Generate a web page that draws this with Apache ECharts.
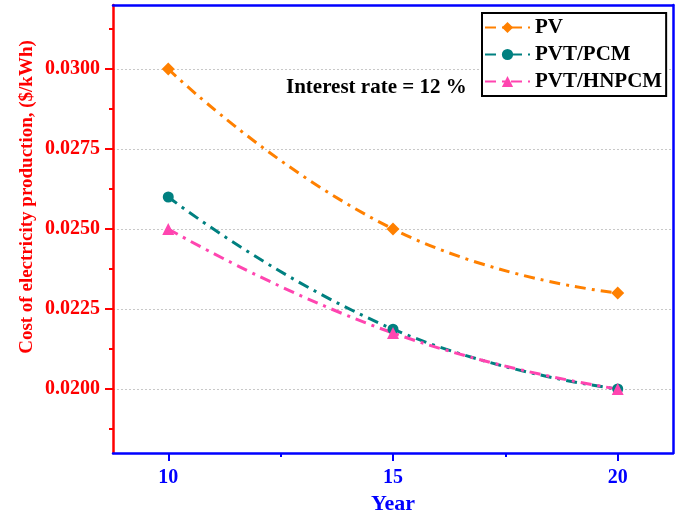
<!DOCTYPE html>
<html>
<head>
<meta charset="utf-8">
<script src="https://cdn.jsdelivr.net/npm/echarts@6/dist/echarts.min.js"></script>
<style>
  html, body { margin: 0; padding: 0; background: #fff; }
  #container { width: 681px; height: 513px; }
</style>
</head>
<body>
<div id="container"></div>
<script>
// data
var years = [10, 15, 20]
var pv = [0.0300, 0.0250, 0.0230]
var pvtPcm = [0.0260, 0.02187, 0.0200]
var pvtHnpcm = [0.0250, 0.02175, 0.0200]
var xTicks = [10, 15, 20]
var xMinor = [12.5, 17.5]
var yTicks = [0.0200, 0.0225, 0.0250, 0.0275, 0.0300]
var yMinor = [0.01875, 0.02125, 0.02375, 0.02625, 0.02875, 0.03125]

var font = 'Liberation Serif'
var red = '#ff0000'
var blue = '#0000ff'

function pairs(ys) {
  return years.map(function (x, i) { return [x, ys[i]] })
}

var dash = [11, 6, 3, 6]

function line(name, ys, color, symbol, size) {
  return {
    name: name,
    type: 'line',
    data: pairs(ys),
    smooth: 0.5,
    symbol: symbol,
    symbolSize: size,
    xAxisIndex: 0,
    yAxisIndex: 0,
    itemStyle: { color: color },
    lineStyle: { color: color, width: 3, type: dash },
    emphasis: { disabled: true }
  }
}

var dom = document.getElementById('container')
var myChart = echarts.init(dom, null, { renderer: 'canvas' })

var option = {
  animation: false,
  backgroundColor: '#fff',
  grid: { left: 113, right: 8, top: 5, bottom: 60, containLabel: false, outerBoundsMode: 'none' },
  legend: {
    orient: 'vertical',
    left: 482,
    top: 13,
    backgroundColor: '#fff',
    borderColor: '#000',
    borderWidth: 2,
    padding: [4, 4, 4, 2],
    itemWidth: 45,
    itemHeight: 14,
    itemGap: 6,
    itemTextGap: 10,
    textStyle: { fontFamily: font, fontWeight: 'bold', fontSize: 21, color: '#000', lineHeight: 20 },
    data: ['PV', 'PVT/PCM', 'PVT/HNPCM']
  },
  xAxis: [
    {
      type: 'value', min: 8.77, max: 21.23, position: 'bottom',
      name: 'Year', nameLocation: 'middle', nameGap: 36,
      nameTextStyle: { fontFamily: font, fontWeight: 'bold', fontSize: 22, color: blue },
      axisLine: { show: true, lineStyle: { color: blue, width: 2.5 } },
      axisTick: { show: true, inside: false, length: 8, customValues: xTicks, lineStyle: { color: blue, width: 2 } },
      axisLabel: { customValues: xTicks, margin: 15, fontFamily: font, fontWeight: 'bold', fontSize: 20, color: blue },
      splitLine: { show: false }
    },
    {
      type: 'value', min: 8.77, max: 21.23, position: 'bottom',
      axisLine: { show: false },
      axisTick: { show: true, inside: false, length: 4, customValues: xMinor, lineStyle: { color: blue, width: 2 } },
      axisLabel: { show: false },
      splitLine: { show: false }
    },
    {
      type: 'value', min: 8.77, max: 21.23, position: 'top',
      axisLine: { show: true, lineStyle: { color: blue, width: 2.5 } },
      axisTick: { show: false },
      axisLabel: { show: false },
      splitLine: { show: false }
    }
  ],
  yAxis: [
    {
      type: 'value', min: 0.018, max: 0.032, position: 'left',
      axisLine: { show: true, lineStyle: { color: red, width: 2.5 } },
      axisTick: { show: true, inside: false, length: 8, customValues: yTicks, lineStyle: { color: red, width: 2 } },
      axisLabel: {
        customValues: yTicks, margin: 13, fontFamily: font, fontWeight: 'bold', fontSize: 20, color: red,
        formatter: function (v) { return v.toFixed(4) }
      },
      splitLine: { show: true, lineStyle: { color: '#c8c8c8', width: 1, type: [2, 2] } }
    },
    {
      type: 'value', min: 0.018, max: 0.032, position: 'left',
      axisLine: { show: false },
      axisTick: { show: true, inside: false, length: 4, customValues: yMinor, lineStyle: { color: red, width: 2 } },
      axisLabel: { show: false },
      splitLine: { show: false }
    },
    {
      type: 'value', min: 0.018, max: 0.032, position: 'right',
      axisLine: { show: true, lineStyle: { color: blue, width: 2.5 } },
      axisTick: { show: false },
      axisLabel: { show: false },
      splitLine: { show: false }
    }
  ],
  graphic: [
    {
      type: 'text', left: 286, top: 77,
      style: { text: 'Interest rate = 12 %', fontFamily: font, fontWeight: 'bold', fontSize: 21, fill: '#000' }
    },
    {
      type: 'text', x: 27, y: 197, rotation: Math.PI / 2,
      style: {
        text: 'Cost of electricity production, ($/kWh)', fontFamily: font, fontWeight: 'bold', fontSize: 19,
        fill: red, align: 'center', verticalAlign: 'middle'
      }
    }
  ],
  series: [
    line('PV', pv, '#ff8000', 'diamond', 13),
    line('PVT/PCM', pvtPcm, '#008080', 'circle', 11),
    line('PVT/HNPCM', pvtHnpcm, '#ff45b0', 'triangle', 12)
  ]
}

myChart.setOption(option)
</script>
</body>
</html>
